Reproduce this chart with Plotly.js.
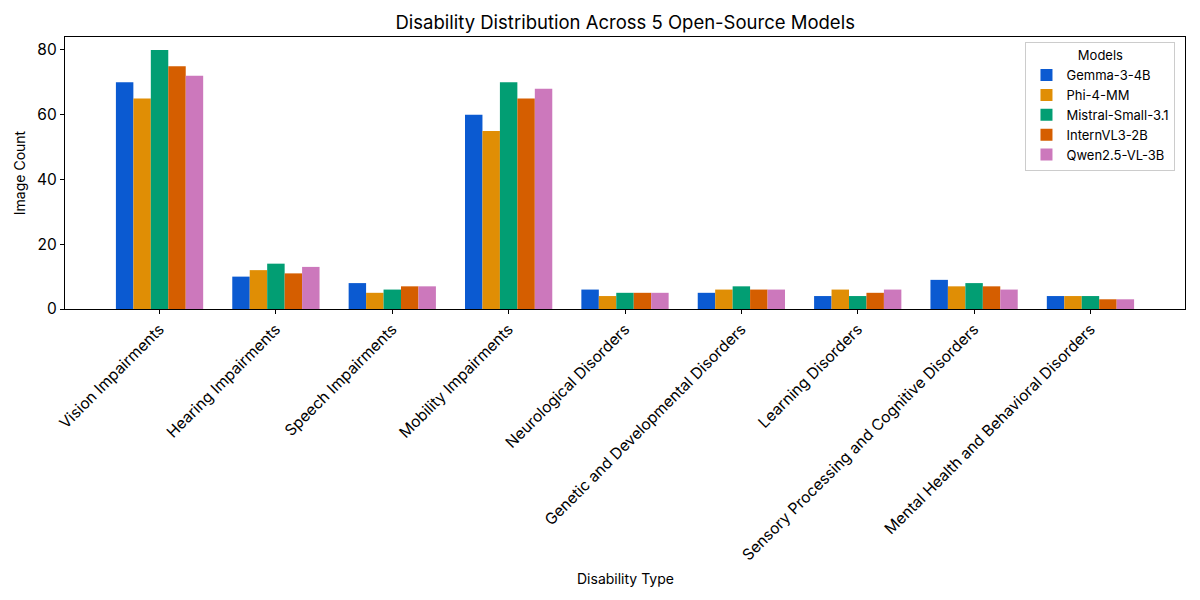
<!DOCTYPE html>
<html><head><meta charset="utf-8">
<script src="https://cdn.plot.ly/plotly-3.0.1.min.js"></script>
<style>html,body{margin:0;padding:0;background:#fff}#chart{width:1200px;height:600px}</style>
</head><body><div id="chart"></div>
<script>
const categories = ["Vision Impairments","Hearing Impairments","Speech Impairments","Mobility Impairments","Neurological Disorders","Genetic and Developmental Disorders","Learning Disorders","Sensory Processing and Cognitive Disorders","Mental Health and Behavioral Disorders"];
const models = ["Gemma-3-4B","Phi-4-MM","Mistral-Small-3.1","InternVL3-2B","Qwen2.5-VL-3B"];
const gemma   = [70,10,8,60,6,5,4,9,4];
const phi     = [65,12,5,55,4,6,6,7,4];
const mistral = [80,14,6,70,5,7,4,8,4];
const intern  = [75,11,7,65,5,6,5,7,3];
const qwen    = [72,13,7,68,5,6,6,6,3];
const colors = ["#0b5ad1","#e08e05","#029e73","#d55e00","#cc78bc"];
const series = [gemma,phi,mistral,intern,qwen];
const font = "Inter, 'Open Sans', sans-serif";
const traces = series.map((v,i)=>({type:'bar',name:models[i],x:categories,y:v,marker:{color:colors[i],line:{width:0}},hoverinfo:'skip'}));
const layout = {
  width:1200,height:600,
  margin:{l:65,r:15,t:37,b:291},
  paper_bgcolor:'#fff',plot_bgcolor:'#fff',
  font:{family:font,color:'#000',size:14},
  title:{text:'Disability Distribution Across 5 Open-Source Models',font:{size:18.5},x:0.521,xanchor:'center',y:0.963,yanchor:'middle'},
  barmode:'group',bargap:0.25,bargroupgap:0,
  xaxis:{type:'category',range:[-0.8125,8.8125],tickangle:-45,ticks:'outside',ticklen:4,tickcolor:'#000',showline:true,linecolor:'#000',linewidth:1.2,mirror:true,showgrid:false,tickfont:{size:15.5},automargin:false},
  yaxis:{range:[0,84],tickvals:[0,20,40,60,80],ticks:'outside',ticklen:4,tickcolor:'#000',showline:true,linecolor:'#000',linewidth:1.2,mirror:true,showgrid:false,zeroline:false,tickfont:{size:15.5},title:{text:'Image Count',font:{size:14},standoff:8},automargin:false},
  legend:{x:0.9915,xanchor:'right',y:0.981,yanchor:'top',bgcolor:'#fff',bordercolor:'#ccc',borderwidth:1,font:{size:13},title:{text:'Models',side:'top center',font:{size:13}},tracegroupgap:0,itemwidth:30},
  annotations:[{text:'Disability Type',xref:'paper',yref:'paper',x:0.5,y:-1.0,yshift:3,xanchor:'center',yanchor:'middle',showarrow:false,font:{size:14}}]
};
Plotly.newPlot('chart',traces,layout,{displayModeBar:false,staticPlot:true});
</script></body></html>
